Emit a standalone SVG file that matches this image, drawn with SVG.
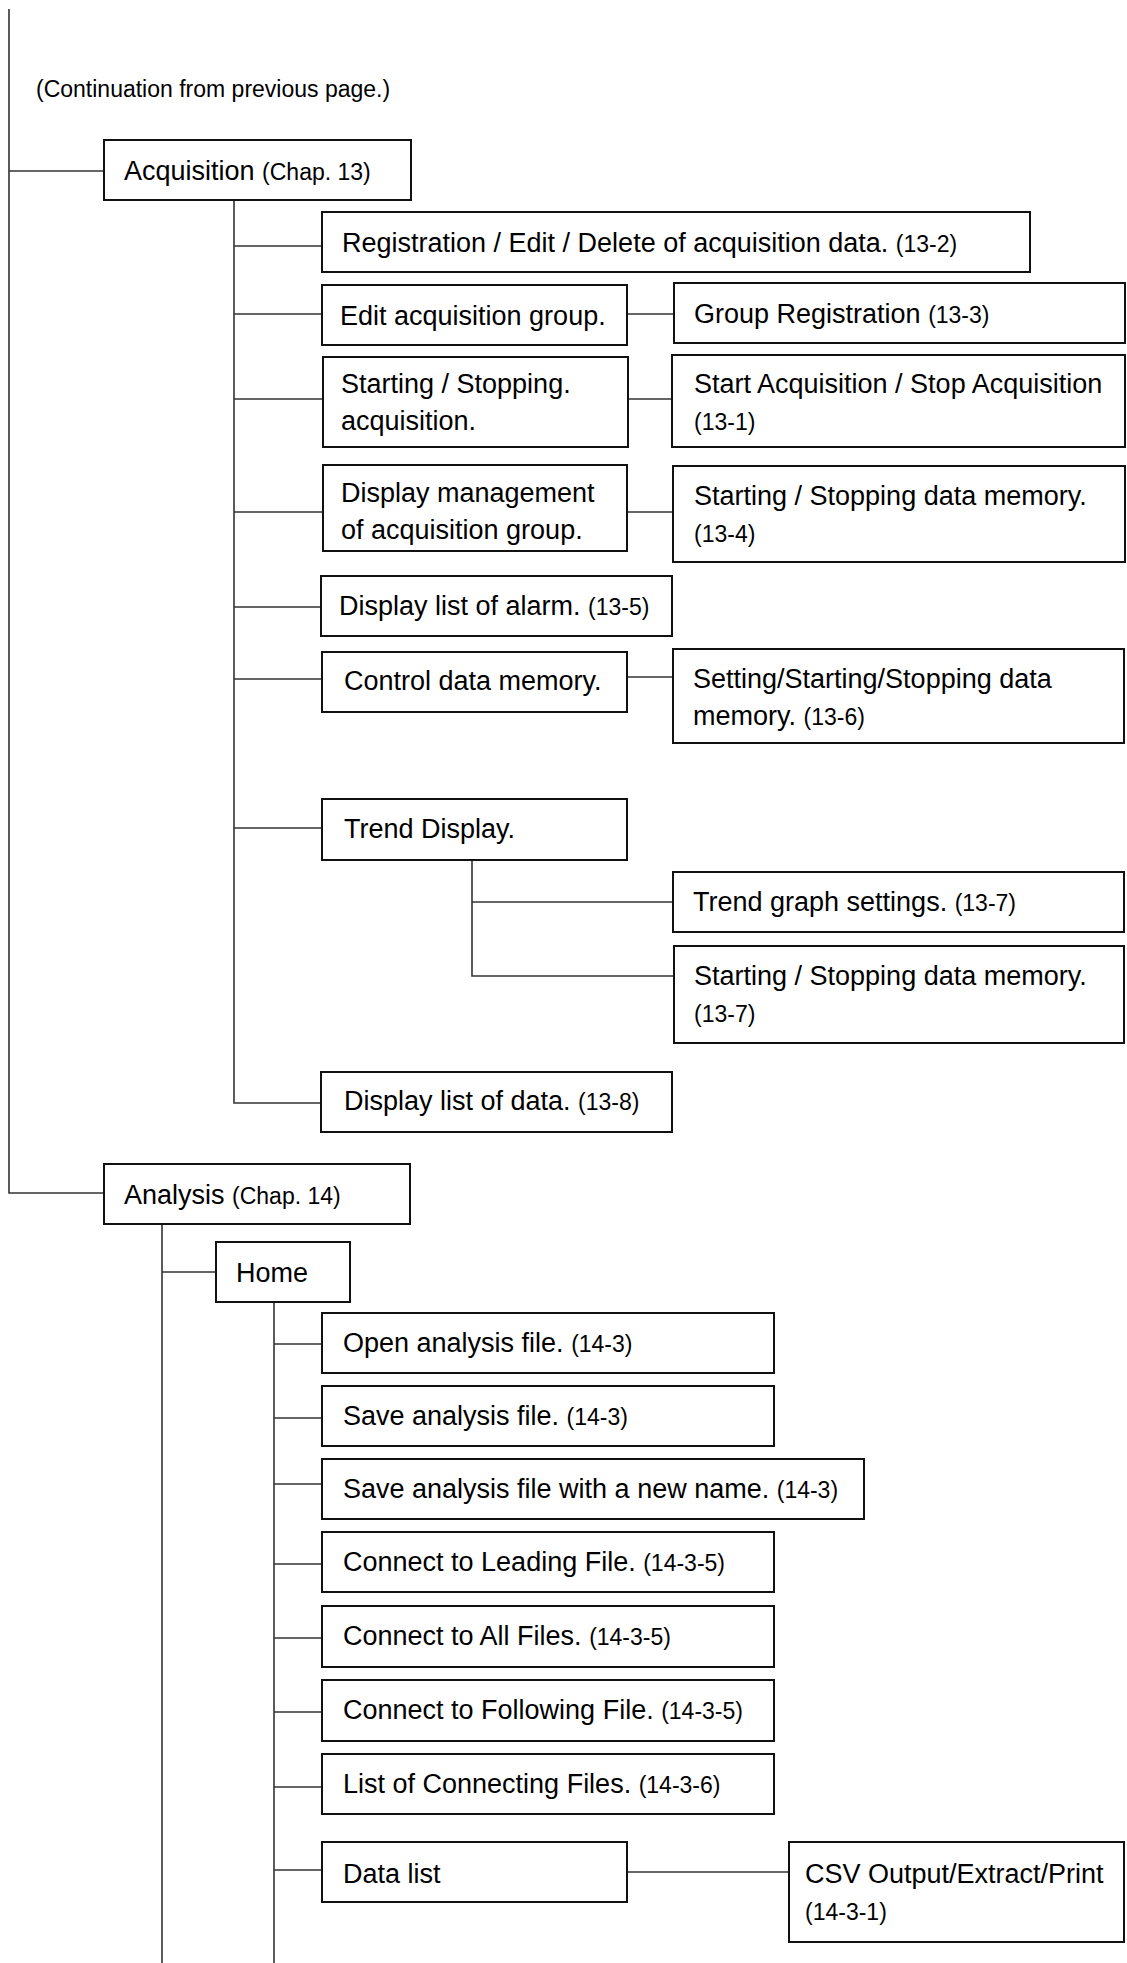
<svg xmlns="http://www.w3.org/2000/svg" width="1127" height="1963" viewBox="0 0 1127 1963">
<style>
.box{fill:#fff;stroke:#111;stroke-width:2}
.t{font-family:"Liberation Sans",Arial,sans-serif;font-size:27px;fill:#000}
.s{font-size:23px}
.c{fill:none;stroke:#333;stroke-width:1.6}
</style>
<rect width="1127" height="1963" fill="#fff"/>
<text class="t s" x="36" y="97">(Continuation from previous page.)</text>
<g id="connectors">
<path class="c" d="M9,9 V1193 H104"/>
<path class="c" d="M9,171 H104"/>
<path class="c" d="M234,200 V1103 H321"/>
<path class="c" d="M234,246 H322 M234,314 H322 M234,399 H323 M234,512 H323 M234,607 H321 M234,679 H322 M234,828 H322"/>
<path class="c" d="M627,314 H674 M628,399 H672 M627,512 H673 M627,677 H673"/>
<path class="c" d="M472,860 V976 H673 M472,902 H673"/>
<path class="c" d="M162,1224 V1963 M162,1272 H216"/>
<path class="c" d="M274,1302 V1963"/>
<path class="c" d="M274,1344 H322 M274,1418 H322 M274,1484 H322 M274,1564 H322 M274,1638 H322 M274,1712 H322 M274,1787 H322 M274,1870 H322"/>
<path class="c" d="M627,1872 H789"/>
</g>
<g id="acquisition"><rect class="box" x="104" y="140" width="307" height="60"/><text class="t" x="124" y="180">Acquisition <tspan class="s">(Chap. 13)</tspan></text></g>
<g id="registration"><rect class="box" x="322" y="212" width="708" height="60"/><text class="t" x="342" y="252">Registration / Edit / Delete of acquisition data. <tspan class="s">(13-2)</tspan></text></g>
<g id="edit-group"><rect class="box" x="322" y="285" width="305" height="60"/><text class="t" x="340" y="325">Edit acquisition group.</text></g>
<g id="group-registration"><rect class="box" x="674" y="283" width="451" height="60"/><text class="t" x="694" y="323">Group Registration <tspan class="s">(13-3)</tspan></text></g>
<g id="starting-stopping"><rect class="box" x="323" y="357" width="305" height="90"/><text class="t" x="341" y="393">Starting / Stopping.</text><text class="t" x="341" y="430">acquisition.</text></g>
<g id="start-stop-acq"><rect class="box" x="672" y="355" width="453" height="92"/><text class="t" x="694" y="393">Start Acquisition / Stop Acquisition</text><text class="t s" x="694" y="430">(13-1)</text></g>
<g id="display-management"><rect class="box" x="323" y="465" width="304" height="86"/><text class="t" x="341" y="502">Display management</text><text class="t" x="341" y="539">of acquisition group.</text></g>
<g id="start-stop-memory-1"><rect class="box" x="673" y="466" width="452" height="96"/><text class="t" x="694" y="505">Starting / Stopping data memory.</text><text class="t s" x="694" y="542">(13-4)</text></g>
<g id="alarm-list"><rect class="box" x="321" y="576" width="351" height="60"/><text class="t" x="339" y="615">Display list of alarm. <tspan class="s">(13-5)</tspan></text></g>
<g id="control-memory"><rect class="box" x="322" y="652" width="305" height="60"/><text class="t" x="344" y="690">Control data memory.</text></g>
<g id="setting-memory"><rect class="box" x="673" y="649" width="451" height="94"/><text class="t" x="693" y="688">Setting/Starting/Stopping data</text><text class="t" x="693" y="725">memory. <tspan class="s">(13-6)</tspan></text></g>
<g id="trend-display"><rect class="box" x="322" y="799" width="305" height="61"/><text class="t" x="344" y="838">Trend Display.</text></g>
<g id="trend-settings"><rect class="box" x="673" y="872" width="451" height="60"/><text class="t" x="693" y="911">Trend graph settings. <tspan class="s">(13-7)</tspan></text></g>
<g id="start-stop-memory-2"><rect class="box" x="674" y="946" width="450" height="97"/><text class="t" x="694" y="985">Starting / Stopping data memory.</text><text class="t s" x="694" y="1022">(13-7)</text></g>
<g id="data-list-display"><rect class="box" x="321" y="1072" width="351" height="60"/><text class="t" x="344" y="1110">Display list of data. <tspan class="s">(13-8)</tspan></text></g>
<g id="analysis"><rect class="box" x="104" y="1164" width="306" height="60"/><text class="t" x="124" y="1204">Analysis <tspan class="s">(Chap. 14)</tspan></text></g>
<g id="home"><rect class="box" x="216" y="1242" width="134" height="60"/><text class="t" x="236" y="1282">Home</text></g>
<g id="open-file"><rect class="box" x="322" y="1313" width="452" height="60"/><text class="t" x="343" y="1352">Open analysis file. <tspan class="s">(14-3)</tspan></text></g>
<g id="save-file"><rect class="box" x="322" y="1386" width="452" height="60"/><text class="t" x="343" y="1425">Save analysis file. <tspan class="s">(14-3)</tspan></text></g>
<g id="save-new"><rect class="box" x="322" y="1459" width="542" height="60"/><text class="t" x="343" y="1498">Save analysis file with a new name. <tspan class="s">(14-3)</tspan></text></g>
<g id="connect-leading"><rect class="box" x="322" y="1532" width="452" height="60"/><text class="t" x="343" y="1571">Connect to Leading File. <tspan class="s">(14-3-5)</tspan></text></g>
<g id="connect-all"><rect class="box" x="322" y="1606" width="452" height="61"/><text class="t" x="343" y="1645">Connect to All Files. <tspan class="s">(14-3-5)</tspan></text></g>
<g id="connect-following"><rect class="box" x="322" y="1680" width="452" height="61"/><text class="t" x="343" y="1719">Connect to Following File. <tspan class="s">(14-3-5)</tspan></text></g>
<g id="connecting-list"><rect class="box" x="322" y="1754" width="452" height="60"/><text class="t" x="343" y="1793">List of Connecting Files. <tspan class="s">(14-3-6)</tspan></text></g>
<g id="data-list"><rect class="box" x="322" y="1842" width="305" height="60"/><text class="t" x="343" y="1883">Data list</text></g>
<g id="csv"><rect class="box" x="789" y="1842" width="335" height="100"/><text class="t" x="805" y="1883">CSV Output/Extract/Print</text><text class="t s" x="805" y="1920">(14-3-1)</text></g>
</svg>
